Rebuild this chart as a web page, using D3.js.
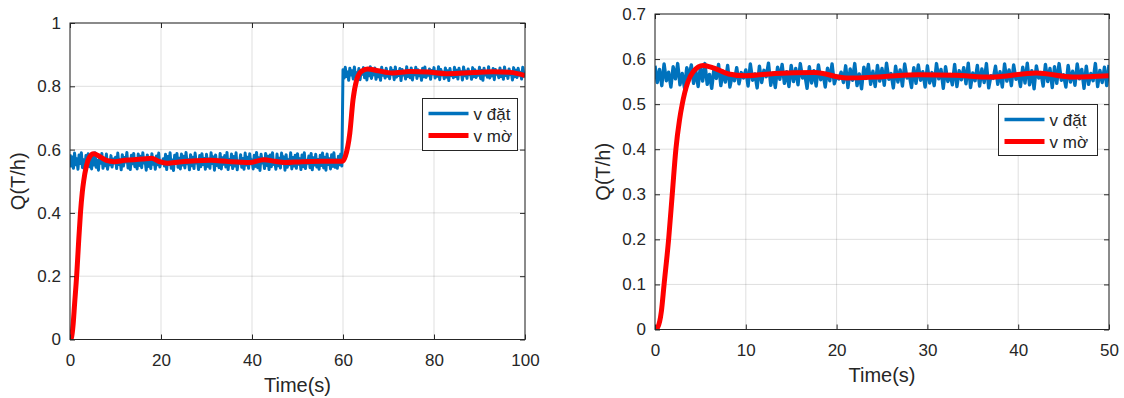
<!DOCTYPE html>
<html>
<head>
<meta charset="utf-8">
<script src="https://cdn.jsdelivr.net/npm/d3@7"></script>
<style>
body { margin: 0; background: #fff; }
svg text { font-family: "Liberation Sans", Arial, Helvetica, sans-serif; fill: #262626; }
</style>
</head>
<body>
<div id="chart"></div>
<script>
// sample spacing of the "v đặt" (setpoint) signal, seconds
const step = 0.25;

// v đặt, 0 .. 59.75 s
const blueBefore = [
  0.585,0.548,0.577,0.541,0.589,0.552,0.571,0.538,0.583,0.556,0.590,0.543,0.568,0.536,0.581,0.560,0.587,0.546,0.574,0.539,
  0.583,0.551,0.590,0.544,0.566,0.535,0.579,0.557,0.588,0.541,0.573,0.549,0.586,0.538,0.563,0.552,0.581,0.545,0.570,0.558,
  0.576,0.540,0.589,0.553,0.567,0.536,0.584,0.548,0.575,0.561,0.591,0.542,0.569,0.537,0.582,0.555,0.588,0.546,0.572,0.539,
  0.586,0.550,0.579,0.543,0.590,0.558,0.566,0.535,0.583,0.547,0.574,0.540,0.587,0.554,0.569,0.538,0.580,0.552,0.589,0.545,
  0.562,0.556,0.571,0.548,0.585,0.537,0.578,0.553,0.590,0.541,0.567,0.534,0.582,0.557,0.588,0.544,0.573,0.539,0.586,0.551,
  0.579,0.542,0.591,0.555,0.568,0.536,0.584,0.549,0.576,0.540,0.589,0.558,0.565,0.537,0.581,0.546,0.587,0.553,0.572,0.538,
  0.585,0.547,0.570,0.541,0.590,0.556,0.577,0.535,0.583,0.550,0.566,0.543,0.588,0.539,0.574,0.554,0.581,0.545,0.591,0.537,
  0.569,0.552,0.586,0.540,0.578,0.548,0.590,0.536,0.563,0.557,0.584,0.544,0.572,0.538,0.589,0.551,0.576,0.541,0.587,0.555,
  0.567,0.539,0.582,0.547,0.591,0.543,0.574,0.534,0.585,0.558,0.570,0.540,0.588,0.550,0.579,0.537,0.583,0.546,0.590,0.553,
  0.565,0.538,0.586,0.549,0.573,0.542,0.589,0.556,0.577,0.535,0.584,0.544,0.568,0.552,0.590,0.539,0.575,0.548,0.582,0.541,
  0.587,0.554,0.571,0.537,0.583,0.546,0.590,0.540,0.566,0.557,0.580,0.543,0.588,0.536,0.574,0.551,0.585,0.545,0.569,0.538,
  0.582,0.550,0.589,0.542,0.576,0.535,0.586,0.553,0.571,0.539,0.584,0.547,0.590,0.544,0.567,0.541,0.579,0.552,0.586,0.548
];

// v đặt, 60 .. 100 s
const blueAfter = [
  0.852,0.826,0.860,0.831,0.845,0.819,0.857,0.836,0.849,0.823,0.861,0.829,0.843,0.834,0.856,0.821,0.850,0.838,0.859,0.827,
  0.846,0.820,0.855,0.833,0.862,0.825,0.841,0.837,0.858,0.822,0.851,0.830,0.844,0.819,0.860,0.835,0.848,0.826,0.857,0.832,
  0.842,0.824,0.859,0.838,0.850,0.821,0.861,0.829,0.847,0.834,0.856,0.818,0.853,0.836,0.845,0.823,0.862,0.831,0.849,0.827,
  0.858,0.820,0.843,0.837,0.860,0.825,0.852,0.833,0.846,0.819,0.857,0.830,0.861,0.828,0.844,0.835,0.855,0.822,0.850,0.839,
  0.859,0.826,0.847,0.832,0.862,0.821,0.853,0.836,0.845,0.824,0.858,0.829,0.849,0.818,0.856,0.834,0.843,0.827,0.860,0.831,
  0.851,0.823,0.857,0.838,0.846,0.820,0.861,0.833,0.848,0.825,0.855,0.837,0.842,0.822,0.859,0.830,0.852,0.828,0.844,0.835,
  0.860,0.824,0.850,0.819,0.857,0.836,0.847,0.829,0.862,0.826,0.845,0.833,0.856,0.821,0.853,0.838,0.843,0.827,0.858,0.831,
  0.849,0.822,0.861,0.834,0.846,0.825,0.855,0.837,0.842,0.820,0.859,0.830,0.851,0.828,0.857,0.835,0.844,0.823,0.860,0.832,
  0.846
];

// v mờ (fuzzy output), left panel
const redLeftTime = [0,0.3,0.7,1.0,1.5,1.9,2.3,2.7,3.0,3.6,4.2,5.2,6.5,8,9.7,12,15.9,17.9,19.5,21.4,24,27.7,31,34.8,39.5,42.6,45,47.3,51,55.2,59.9,60.5,61.5,62.2,63,64,65.4,67.7,70.9,74.8,78.7,82.7,86.6,92.9,96.8,100];
const redLeft     = [0,0.005,0.05,0.11,0.21,0.31,0.40,0.465,0.50,0.548,0.574,0.587,0.578,0.566,0.562,0.566,0.570,0.573,0.563,0.557,0.561,0.565,0.566,0.562,0.559,0.568,0.563,0.559,0.562,0.563,0.563,0.578,0.652,0.757,0.820,0.847,0.855,0.849,0.842,0.847,0.845,0.840,0.842,0.846,0.844,0.834];

// v mờ, right panel
const redRightTime = [0,0.3,0.7,1.0,1.5,1.9,2.3,2.7,3.0,3.6,4.2,5.3,6.5,8.1,10,13.2,17.6,21.1,25,29,33,37,42,46,50];
const redRight     = [0,0.005,0.04,0.10,0.20,0.30,0.40,0.465,0.50,0.548,0.572,0.586,0.580,0.567,0.563,0.568,0.570,0.558,0.561,0.565,0.564,0.560,0.569,0.560,0.563];

const leftXTicks = [0,20,40,60,80,100];
const leftYTicks = [0,0.2,0.4,0.6,0.8,1];
const leftYLabels = ["0","0.2","0.4","0.6","0.8","1"];
const rightXTicks = [0,10,20,30,40,50];
const rightYTicks = [0,0.1,0.2,0.3,0.4,0.5,0.6,0.7];
const rightYLabels = ["0","0.1","0.2","0.3","0.4","0.5","0.6","0.7"];

const seriesNames = ["v đặt", "v mờ"];
const xTitle = "Time(s)";
const yTitle = "Q(T/h)";

const blueAll = blueBefore.concat(blueAfter);

const width = 1124, height = 398;
const ink = "#262626";
const blueColor = "#0072BD", redColor = "#FF0000";

const svg = d3.select("#chart").append("svg")
  .attr("width", width)
  .attr("height", height);

svg.append("rect").attr("width", width).attr("height", height).attr("fill", "#fff");

function drawPanel(p) {
  const x = d3.scaleLinear().domain(p.xDomain).range([p.left, p.right]);
  const y = d3.scaleLinear().domain(p.yDomain).range([p.bottom, p.top]);
  const g = svg.append("g");

  const clipId = "clip-" + p.id;
  svg.append("clipPath").attr("id", clipId)
    .append("rect")
    .attr("x", p.left).attr("y", p.top)
    .attr("width", p.right - p.left).attr("height", p.bottom - p.top);

  // grid
  g.append("g").selectAll("line").data(p.xTicks).join("line")
    .attr("x1", d => x(d)).attr("x2", d => x(d))
    .attr("y1", p.top).attr("y2", p.bottom)
    .attr("stroke", "rgba(38,38,38,0.15)");
  g.append("g").selectAll("line").data(p.yTicks).join("line")
    .attr("x1", p.left).attr("x2", p.right)
    .attr("y1", d => y(d)).attr("y2", d => y(d))
    .attr("stroke", "rgba(38,38,38,0.15)");

  // series
  const blueData = blueAll.filter((d, i) => i * step <= p.xDomain[1]);
  const blueLine = d3.line().x((d, i) => x(i * step)).y(d => y(d));
  g.append("path")
    .attr("clip-path", `url(#${clipId})`)
    .attr("d", blueLine(blueData))
    .attr("fill", "none")
    .attr("stroke", blueColor)
    .attr("stroke-width", p.blueWidth)
    .attr("stroke-linejoin", "round");

  const redLine = d3.line().x((d, i) => x(p.redTime[i])).y(d => y(d)).curve(d3.curveMonotoneX);
  g.append("path")
    .attr("clip-path", `url(#${clipId})`)
    .attr("d", redLine(p.red))
    .attr("fill", "none")
    .attr("stroke", redColor)
    .attr("stroke-width", 5)
    .attr("stroke-linejoin", "round");

  // axes, ticks pointing inward on all four sides
  const styleAxis = sel => {
    sel.select(".domain").remove();
    sel.attr("font-size", 17).attr("font-family", null).attr("color", ink);
  };
  g.append("g").attr("transform", `translate(0,${p.bottom})`)
    .call(d3.axisBottom(x).tickValues(p.xTicks).tickSize(-5).tickPadding(14).tickFormat(d => String(d)))
    .call(styleAxis);
  g.append("g").attr("transform", `translate(0,${p.top})`)
    .call(d3.axisTop(x).tickValues(p.xTicks).tickSize(-5).tickFormat(""))
    .call(styleAxis);
  g.append("g").attr("transform", `translate(${p.left},0)`)
    .call(d3.axisLeft(y).tickValues(p.yTicks).tickSize(-5).tickPadding(9).tickFormat((d, i) => p.yLabels[i]))
    .call(styleAxis);
  g.append("g").attr("transform", `translate(${p.right},0)`)
    .call(d3.axisRight(y).tickValues(p.yTicks).tickSize(-5).tickFormat(""))
    .call(styleAxis);

  g.append("rect")
    .attr("x", p.left).attr("y", p.top)
    .attr("width", p.right - p.left).attr("height", p.bottom - p.top)
    .attr("fill", "none").attr("stroke", ink).attr("stroke-width", 1);

  // titles
  g.append("text")
    .attr("x", (p.left + p.right) / 2).attr("y", p.xTitleY)
    .attr("text-anchor", "middle").attr("font-size", 20)
    .text(xTitle);
  g.append("text")
    .attr("transform", `translate(${p.yTitleX},${(p.top + p.bottom) / 2}) rotate(-90)`)
    .attr("text-anchor", "middle").attr("font-size", 20)
    .text(yTitle);

  // legend
  const lg = g.append("g").attr("transform", `translate(${p.legend.x},${p.legend.y})`);
  lg.append("rect")
    .attr("width", p.legend.w).attr("height", p.legend.h)
    .attr("fill", "#fff").attr("stroke", ink).attr("stroke-width", 1);
  const items = [
    {name: seriesNames[0], color: blueColor, w: 3.5, yy: 15},
    {name: seriesNames[1], color: redColor, w: 5, yy: 37}
  ];
  items.forEach(it => {
    lg.append("line")
      .attr("x1", 6).attr("x2", 46)
      .attr("y1", it.yy).attr("y2", it.yy)
      .attr("stroke", it.color).attr("stroke-width", it.w);
    lg.append("text")
      .attr("x", 51).attr("y", it.yy + 6)
      .attr("font-size", 17)
      .text(it.name);
  });
}

drawPanel({
  id: "left", left: 70, right: 525, top: 23, bottom: 339.5,
  xDomain: [0, 100], yDomain: [0, 1],
  xTicks: leftXTicks, yTicks: leftYTicks, yLabels: leftYLabels,
  redTime: redLeftTime, red: redLeft, blueWidth: 3,
  xTitleY: 392, yTitleX: 25,
  legend: {x: 422.5, y: 98.5, w: 95, h: 52}
});

drawPanel({
  id: "right", left: 655, right: 1109, top: 14, bottom: 329.5,
  xDomain: [0, 50], yDomain: [0, 0.7],
  xTicks: rightXTicks, yTicks: rightYTicks, yLabels: rightYLabels,
  redTime: redRightTime, red: redRight, blueWidth: 3.4,
  xTitleY: 382, yTitleX: 610,
  legend: {x: 998.5, y: 104.5, w: 99, h: 51}
});
</script>
</body>
</html>
